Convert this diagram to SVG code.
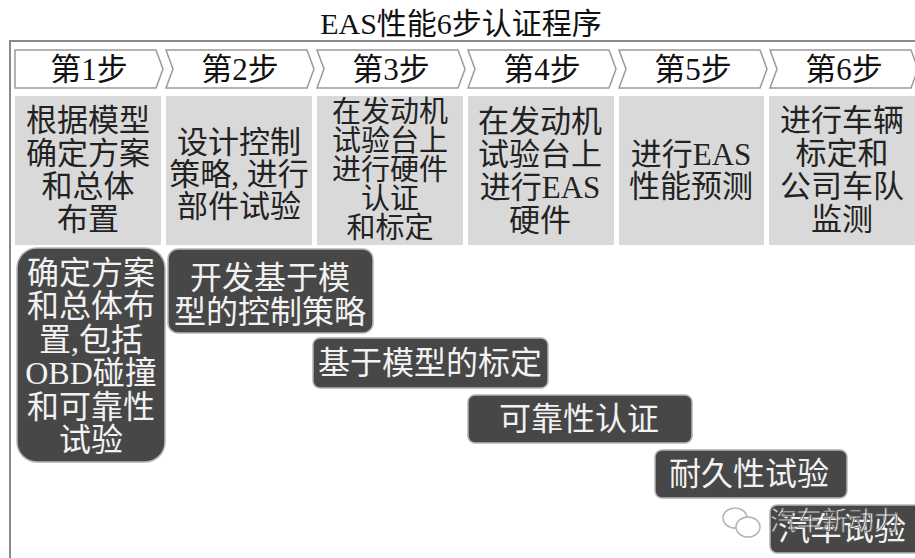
<svg xmlns="http://www.w3.org/2000/svg" width="915" height="558" viewBox="0 0 915 558">
<style>
text{font-family:"Liberation Serif","Noto Sans CJK SC",serif;text-anchor:middle}
.title{font-size:30px;fill:#111}
.chev{fill:#ffffff;stroke:#9a9a9a;stroke-width:1.5}
.step{font-size:31px;fill:#111}
.gbox{fill:#d9d9d9}
.gt{font-size:31px;fill:#222}
.gt3{font-size:29px;fill:#222}
.dbox{fill:#474747;stroke:#b5b5b5;stroke-width:1.5}
.dt{font-size:32px;fill:#f2f2f2}
.frame{fill:none;stroke:#8a8a8a;stroke-width:2}
.wm{font-family:"Noto Sans CJK SC",sans-serif;font-size:26px;fill:#ffffff;stroke:#555;stroke-width:0.8}
.icon{fill:#fff;stroke:#aaa;stroke-width:1.5}
</style>
<rect width="915" height="558" fill="#ffffff"/>
<text class="title" x="461" y="34">EAS性能6步认证程序</text>
<path class="frame" d="M10,558 L10,41 L916,41"/>
<g id="connectors"/>
<g id="step1"><path class="chev" d="M15,50 L156,50 L163,69 L156,88 L15,88 Z"/><text class="step" x="89" y="80">第1步</text></g>
<g id="step2"><path class="chev" d="M166,50 L307,50 L314,69 L307,88 L166,88 L173,69 Z"/><text class="step" x="240" y="80">第2步</text></g>
<g id="step3"><path class="chev" d="M317,50 L458,50 L465,69 L458,88 L317,88 L324,69 Z"/><text class="step" x="391" y="80">第3步</text></g>
<g id="step4"><path class="chev" d="M468,50 L609,50 L616,69 L609,88 L468,88 L475,69 Z"/><text class="step" x="542" y="80">第4步</text></g>
<g id="step5"><path class="chev" d="M619,50 L760,50 L767,69 L760,88 L619,88 L626,69 Z"/><text class="step" x="693" y="80">第5步</text></g>
<g id="step6"><path class="chev" d="M770,50 L911,50 L918,69 L911,88 L770,88 L777,69 Z"/><text class="step" x="844" y="80">第6步</text></g>

<g id="desc1"><rect class="gbox" x="15" y="96" width="146" height="149"/>
<text class="gt" x="88" y="131">根据模型</text><text class="gt" x="88" y="164">确定方案</text><text class="gt" x="88" y="197">和总体</text><text class="gt" x="88" y="230">布置</text></g>
<g id="desc2"><rect class="gbox" x="166" y="96" width="146" height="149"/>
<text class="gt" x="239" y="153">设计控制</text><text class="gt" x="239" y="185">策略, 进行</text><text class="gt" x="239" y="217">部件试验</text></g>
<g id="desc3"><rect class="gbox" x="317" y="96" width="146" height="149"/>
<text class="gt3" x="390" y="122">在发动机</text><text class="gt3" x="390" y="151">试验台上</text><text class="gt3" x="390" y="180">进行硬件</text><text class="gt3" x="390" y="209">认证</text><text class="gt3" x="390" y="238">和标定</text></g>
<g id="desc4"><rect class="gbox" x="468" y="96" width="146" height="149"/>
<text class="gt" x="540" y="132">在发动机</text><text class="gt" x="540" y="165">试验台上</text><text class="gt" x="540" y="198">进行EAS</text><text class="gt" x="540" y="231">硬件</text></g>
<g id="desc5"><rect class="gbox" x="619" y="96" width="145" height="149"/>
<text class="gt" x="691" y="165">进行EAS</text><text class="gt" x="691" y="197">性能预测</text></g>
<g id="desc6"><rect class="gbox" x="769" y="96" width="150" height="149"/>
<text class="gt" x="842" y="131">进行车辆</text><text class="gt" x="842" y="164">标定和</text><text class="gt" x="842" y="197">公司车队</text><text class="gt" x="842" y="230">监测</text></g>

<g id="task1"><rect class="dbox" x="17" y="248" width="148" height="214" rx="20"/>
<text class="dt" x="91" y="284">确定方案</text><text class="dt" x="91" y="317">和总体布</text><text class="dt" x="91" y="351">置,包括</text><text class="dt" x="91" y="384">OBD碰撞</text><text class="dt" x="91" y="418">和可靠性</text><text class="dt" x="91" y="451">试验</text></g>
<g id="task2"><rect class="dbox" x="168" y="249" width="205" height="84" rx="10"/>
<text class="dt" x="270" y="289">开发基于模</text><text class="dt" x="270" y="323">型的控制策略</text></g>
<g id="task3"><rect class="dbox" x="313" y="338" width="235" height="50" rx="7"/>
<text class="dt" x="430" y="374">基于模型的标定</text></g>
<g id="task4"><rect class="dbox" x="468" y="395" width="224" height="48" rx="7"/>
<text class="dt" x="579" y="430">可靠性认证</text></g>
<g id="task5"><rect class="dbox" x="655" y="450" width="192" height="48" rx="7"/>
<text class="dt" x="749" y="485">耐久性试验</text></g>
<g id="task6"><rect class="dbox" x="770" y="505" width="160" height="48" rx="7"/>
<text class="dt" x="842" y="540">汽车试验</text></g>

<g id="watermark" opacity="0.9">
<ellipse class="icon" cx="735" cy="518" rx="12" ry="10"/>
<ellipse class="icon" cx="748" cy="527" rx="12" ry="10"/>
<text class="wm" x="835" y="530">汽车新动力</text></g>
</svg>
